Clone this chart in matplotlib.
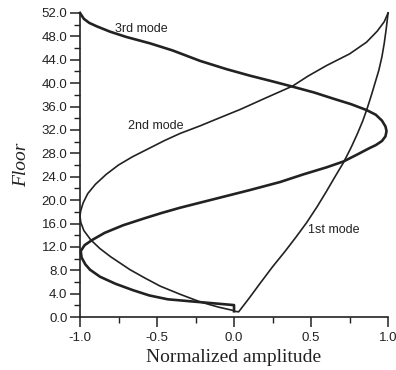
import numpy as np
import matplotlib.pyplot as plt
from matplotlib.ticker import MultipleLocator, FormatStrFormatter

# mode shapes (amplitude, floor)
m1_x = [0.0, 0.03, 0.10, 0.17, 0.25, 0.33, 0.40, 0.47, 0.54, 0.60, 0.66, 0.71,
        0.76, 0.80, 0.835, 0.862, 0.89, 0.915, 0.94, 0.96, 0.975, 0.988, 1.0]
m1_y = [1.0, 0.9, 3.3, 5.8, 8.6, 11.2, 13.6, 16.1, 18.9, 21.5, 24.2, 26.4,
        29.0, 31.3, 33.5, 35.5, 37.8, 40.0, 42.2, 44.5, 46.8, 49.3, 52.0]

m2_x = [1.0, 0.975, 0.93, 0.86, 0.75, 0.60, 0.48, 0.38, 0.20, 0.04, -0.10, -0.22,
        -0.35, -0.45, -0.54, -0.66, -0.75, -0.83, -0.90, -0.95, -0.98, -0.995, -1.0,
        -0.995, -0.975, -0.93, -0.87, -0.80, -0.675, -0.58, -0.48, -0.35, -0.22,
        -0.10, 0.0]
m2_y = [52.0, 50.5, 48.9, 47.0, 45.0, 43.0, 41.2, 39.5, 37.4, 35.5, 34.0, 32.7,
        31.4, 30.2, 29.0, 27.4, 26.0, 24.4, 22.7, 21.1, 19.5, 18.2, 17.3,
        16.2, 14.8, 13.2, 11.7, 10.3, 8.1, 6.7, 5.3, 3.9, 2.6,
        1.7, 1.1]

m3_x = [-1.0, -0.975, -0.94, -0.89, -0.805, -0.70, -0.545, -0.40, -0.22, -0.05,
        0.10, 0.25, 0.38, 0.52, 0.65, 0.76, 0.86, 0.92, 0.96, 0.983, 0.99,
        0.983, 0.96, 0.92, 0.88, 0.80, 0.71, 0.60, 0.45, 0.30, 0.10, -0.05,
        -0.17, -0.35, -0.47, -0.58, -0.72, -0.84, -0.92, -0.97, -0.995,
        -0.99, -0.965, -0.935, -0.87, -0.77, -0.656, -0.55, -0.43, 0.0, 0.0]
m3_y = [52.0, 51.0, 50.3, 49.7, 48.8, 47.9, 46.8, 45.6, 43.8, 42.4,
        41.3, 40.3, 39.4, 38.4, 37.3, 36.4, 35.4, 34.6, 33.6, 32.6, 31.8,
        30.9, 30.1, 29.4, 28.9, 27.8, 26.6, 25.6, 24.4, 23.1, 21.7, 20.7,
        19.9, 18.7, 17.8, 16.9, 15.7, 14.4, 13.2, 12.3, 11.3,
        10.2, 9.0, 8.1, 6.9, 5.7, 4.6, 3.7, 3.04, 2.05, 1.0]

plt.rcParams['font.family'] = ['Liberation Sans', 'DejaVu Sans']

fig = plt.figure(figsize=(3.96, 3.70), dpi=100)
ax = fig.add_axes([0.202, 0.143, 0.778, 0.822])

col = "#222222"
ax.plot(m1_x, m1_y, "-", color=col, lw=1.2, clip_on=False, solid_joinstyle="round")
ax.plot(m2_x, m2_y, "-", color=col, lw=1.2, clip_on=False, solid_joinstyle="round")
ax.plot(m3_x, m3_y, "-", color=col, lw=1.9, clip_on=False, solid_joinstyle="round")

ax.text(-0.773, 49.3, "3rd mode", fontsize=9, va="center", ha="left", color=col)
ax.text(-0.688, 32.6, "2nd mode", fontsize=9, va="center", ha="left", color=col)
ax.text(0.478, 14.9, "1st mode", fontsize=9, va="center", ha="left", color=col)

ax.set_xlim(-1.0, 1.0)
ax.set_ylim(0, 52)
ax.xaxis.set_major_locator(MultipleLocator(0.5))
ax.xaxis.set_minor_locator(MultipleLocator(0.25))
ax.yaxis.set_major_locator(MultipleLocator(4))
ax.yaxis.set_minor_locator(MultipleLocator(2))
ax.xaxis.set_major_formatter(FormatStrFormatter("%.1f"))
ax.yaxis.set_major_formatter(FormatStrFormatter("%.1f"))
ax.tick_params(which="major", direction="out", length=7, width=1.1, labelsize=9.5, colors=col)
ax.tick_params(which="minor", direction="out", length=4, width=1.0, colors=col)
ax.tick_params(axis="y", which="major", pad=2)

for s in ["top", "right"]:
    ax.spines[s].set_visible(False)
for s in ["left", "bottom"]:
    ax.spines[s].set_linewidth(1.2)
    ax.spines[s].set_color(col)

ax.set_xlabel("Normalized amplitude", family="Liberation Serif", fontsize=14, labelpad=4, color=col)
ax.set_ylabel("Floor", family="Liberation Serif", style="italic", fontsize=14, labelpad=8, color=col)

fig.savefig("out.png", dpi=100)
